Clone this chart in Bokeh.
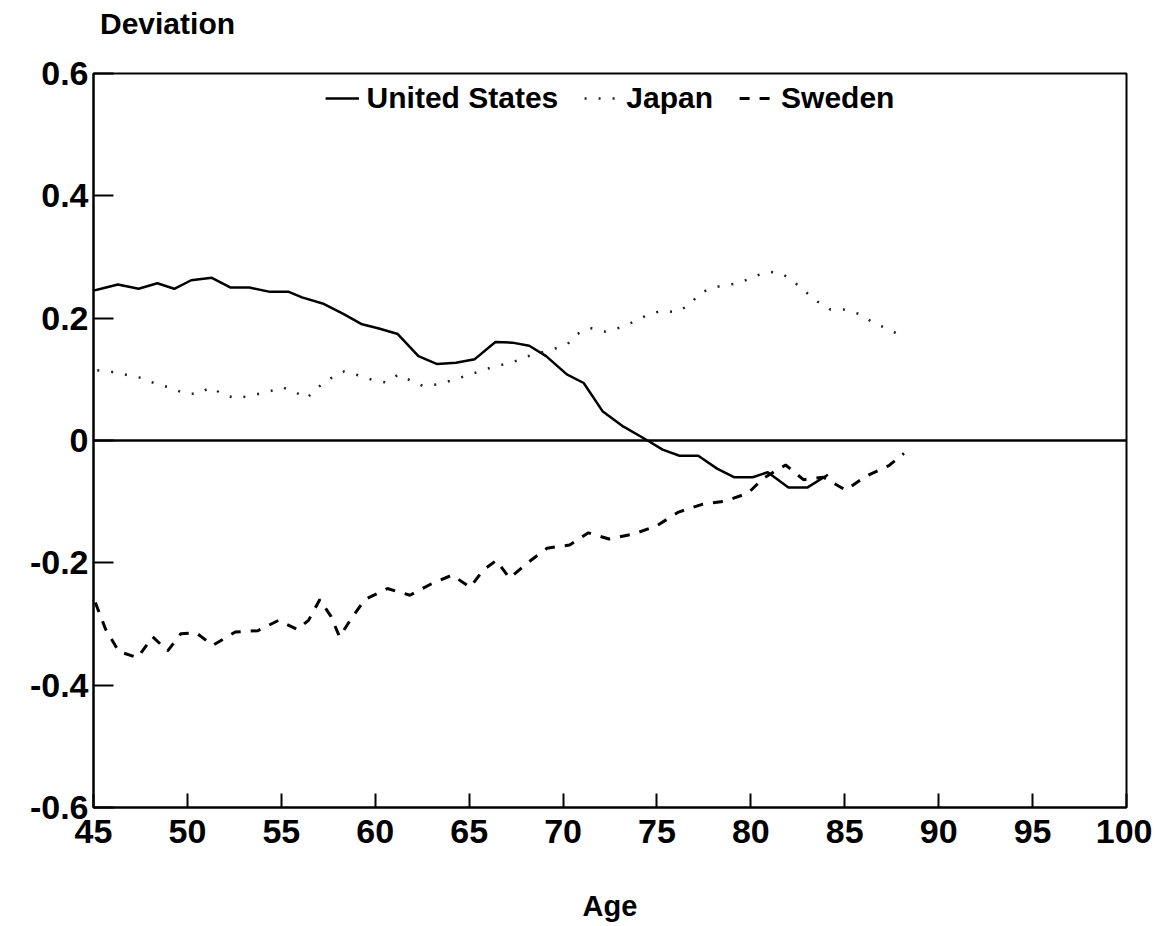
from bokeh.plotting import figure
from bokeh.models import FixedTicker, Span, Legend, LegendItem, Div
from bokeh.layouts import column
from bokeh.embed import file_html
from bokeh.resources import INLINE

# ---- data ----
us_age = [45.0, 45.4, 46.3, 47.4, 48.4, 49.3, 50.2, 51.3, 52.3, 53.3, 54.4, 55.4, 56.1, 57.2,
          58.3, 59.3, 60.2, 61.2, 62.3, 63.3, 64.3, 65.3, 66.4, 67.3, 68.2, 69.1, 70.2, 71.1,
          72.1, 73.2, 74.5, 75.3, 76.2, 77.2, 78.2, 79.1, 80.1, 80.9, 82.0, 83.0, 84.1]
us_val = [0.245, 0.248, 0.255, 0.248, 0.257, 0.248, 0.262, 0.266, 0.250, 0.250, 0.243, 0.243,
          0.234, 0.224, 0.207, 0.190, 0.183, 0.174, 0.138, 0.125, 0.127, 0.133, 0.161, 0.160,
          0.155, 0.138, 0.108, 0.094, 0.048, 0.023, 0.000, -0.015, -0.025, -0.025, -0.046,
          -0.060, -0.060, -0.052, -0.077, -0.077, -0.056]

jp_age = [45.2, 46.0, 46.8, 47.6, 48.35, 49.05, 49.85, 50.55, 51.25, 51.95, 52.65, 53.45, 54.25,
          55.05, 55.75, 56.35, 56.95, 57.65, 58.35, 59.05, 59.85, 60.55, 61.25, 61.95, 62.55,
          63.35, 64.15, 64.95, 65.75, 66.45, 67.25, 68.05, 69.55, 70.25, 70.75, 71.45, 72.25,
          72.95, 73.75, 74.55, 75.25, 76.05, 76.75, 77.25, 77.95, 79.45, 80.15, 80.95, 81.65,
          82.35, 82.95, 83.55, 84.25, 84.95, 85.75, 86.45, 87.15, 87.85, 88.25]
jp_val = [0.115, 0.112, 0.107, 0.102, 0.092, 0.087, 0.077, 0.076, 0.087, 0.074, 0.069, 0.074,
          0.079, 0.087, 0.079, 0.069, 0.087, 0.102, 0.113, 0.107, 0.099, 0.095, 0.108, 0.097,
          0.089, 0.092, 0.099, 0.107, 0.115, 0.122, 0.127, 0.137, 0.150, 0.158, 0.174, 0.184,
          0.178, 0.184, 0.194, 0.206, 0.212, 0.210, 0.222, 0.240, 0.250, 0.258, 0.268, 0.276,
          0.273, 0.258, 0.242, 0.227, 0.214, 0.214, 0.207, 0.194, 0.184, 0.174, 0.169]

se_age = [45.1, 45.65, 46.35, 47.35, 48.15, 48.95, 49.65, 50.45, 51.35, 52.55, 53.75, 54.85,
          55.85, 56.45, 57.05, 57.65, 58.1, 58.75, 59.45, 60.65, 61.85, 62.95, 64.1, 65.05,
          65.75, 66.45, 67.15, 68.15, 69.15, 70.35, 71.35, 72.45, 73.75, 74.95, 76.15, 77.45,
          78.65, 79.85, 80.65, 81.85, 82.8, 83.85, 85.05, 86.15, 87.35, 88.15]
se_val = [-0.265, -0.309, -0.345, -0.355, -0.321, -0.344, -0.316, -0.314, -0.335, -0.313,
          -0.311, -0.294, -0.309, -0.294, -0.260, -0.288, -0.321, -0.290, -0.260, -0.242,
          -0.253, -0.235, -0.220, -0.240, -0.212, -0.196, -0.225, -0.199, -0.176, -0.171,
          -0.151, -0.161, -0.153, -0.140, -0.117, -0.104, -0.099, -0.086, -0.062, -0.040,
          -0.064, -0.060, -0.081, -0.058, -0.041, -0.021]

x_ticks = [45, 50, 55, 60, 65, 70, 75, 80, 85, 90, 95, 100]
y_ticks = [0.6, 0.4, 0.2, 0.0, -0.2, -0.4, -0.6]
y_tick_labels = ["0.6", "0.4", "0.2", "0", "-0.2", "-0.4", "-0.6"]
series_names = ["United States", "Japan", "Sweden"]
y_title = "Deviation"
x_title = "Age"

FONT = "Liberation Sans"

header = Div(text=y_title, width=400, height=45,
             styles={"font-family": FONT, "font-weight": "bold", "font-size": "30px",
                     "line-height": "34px", "color": "black",
                     "padding-left": "100px", "padding-top": "7px", "margin": "0"})

p = figure(width=1152, height=880, x_range=(45, 100), y_range=(-0.6, 0.6),
           output_backend="svg", toolbar_location=None,
           min_border_left=93, min_border_right=26, min_border_top=28, min_border_bottom=118)

p.grid.visible = False
p.outline_line_color = "black"
p.outline_line_width = 2
p.background_fill_color = "white"
p.border_fill_color = "white"

for ax in (p.xaxis[0], p.yaxis[0]):
    ax.axis_line_width = 2
    ax.axis_line_color = "black"
    ax.major_tick_out = 0
    ax.minor_tick_line_color = None
    ax.major_tick_line_width = 2
    ax.major_label_text_font = FONT
    ax.major_label_text_font_style = "bold"
    ax.major_label_text_font_size = "34px"
    ax.major_label_text_color = "black"

p.xaxis.ticker = FixedTicker(ticks=x_ticks)
p.xaxis.major_tick_in = 14
p.xaxis.major_label_standoff = 12
p.xaxis.axis_label = x_title
p.xaxis.axis_label_text_font = FONT
p.xaxis.axis_label_text_font_style = "bold"
p.xaxis.axis_label_text_font_size = "29px"
p.xaxis.axis_label_text_color = "black"
p.xaxis.axis_label_standoff = 44

p.yaxis.ticker = FixedTicker(ticks=y_ticks)
p.yaxis.major_label_overrides = {t: l for t, l in zip(y_ticks, y_tick_labels)}
p.yaxis.major_tick_in = 20
p.yaxis.major_label_standoff = 5
p.yaxis.major_label_orientation = "horizontal"

p.add_layout(Span(location=0, dimension="width", line_color="black", line_width=2.5))

r_us = p.line(us_age, us_val, line_color="black", line_width=2.5)
r_jp = p.line(jp_age, jp_val, line_color="#222222", line_width=2.5, line_dash="2 12")
r_se = p.line(se_age, se_val, line_color="black", line_width=3, line_dash="10 10")

legend = Legend(items=[LegendItem(label=series_names[0], renderers=[r_us]),
                       LegendItem(label=series_names[1], renderers=[r_jp]),
                       LegendItem(label=series_names[2], renderers=[r_se])],
                orientation="horizontal", location="top_center",
                border_line_color=None, background_fill_alpha=0,
                label_text_font=FONT, label_text_font_style="bold",
                label_text_color="black",
                label_text_font_size="30px", glyph_width=34, label_standoff=8,
                spacing=26, padding=0, margin=8)
p.add_layout(legend)

layout = column(header, p, spacing=0)
open("out.html", "w").write(file_html(layout, INLINE))
